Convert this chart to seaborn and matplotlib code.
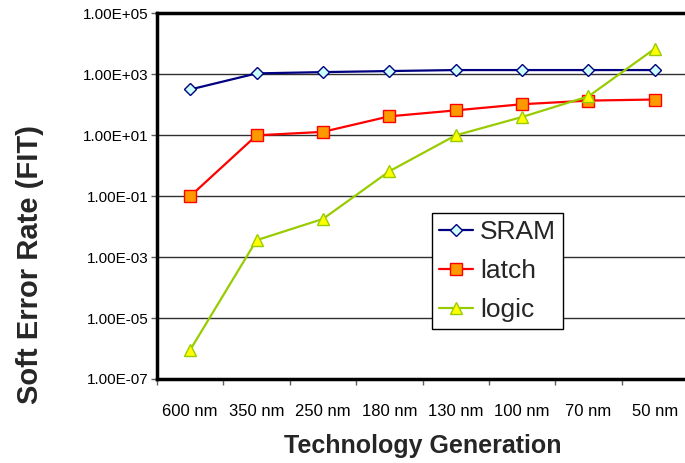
import matplotlib
matplotlib.use("Agg")
import matplotlib.pyplot as plt
import seaborn as sns
import numpy as np
import pandas as pd
from matplotlib.ticker import FixedLocator, FuncFormatter

generations = ["600 nm", "350 nm", "250 nm", "180 nm", "130 nm", "100 nm", "70 nm", "50 nm"]
sram = [320, 1080, 1190, 1290, 1390, 1390, 1390, 1390]
latch = [0.1, 10, 13, 42, 66, 105, 138, 150]
logic = [9e-7, 0.0036, 0.018, 0.66, 10, 40, 190, 7000]
y_ticks = [1e-7, 1e-5, 1e-3, 1e-1, 1e1, 1e3, 1e5]

sns.set_theme(style="white")
plt.rcParams['font.family'] = ['Liberation Sans', 'DejaVu Sans']

fig = plt.figure(figsize=(6.85, 4.63), dpi=100)
ax = fig.add_axes([157/685, 84/463, 531/685, 365.5/463])

styles = [
    ("SRAM", sram, "#000080", "D", "#CCFFFF", "#000080", 6.5),
    ("latch", latch, "#FF0000", "s", "#FF9900", "#FF0000", 8),
    ("logic", logic, "#99CC00", "^", "#FFFF00", "#99CC00", 9),
]
for name, vals, lc, mk, fc, ec, ms in styles:
    df = pd.DataFrame({"gen": generations, "val": vals})
    sns.lineplot(data=df, x="gen", y="val", ax=ax, color=lc, marker=mk,
                 markerfacecolor=fc, markeredgecolor=ec, markersize=ms,
                 markeredgewidth=1.0, linewidth=1.6, label=name, zorder=3)

ax.set_yscale("log")
ax.set_ylim(1e-7, 1e5)
ax.yaxis.set_major_locator(FixedLocator(y_ticks))
ax.yaxis.set_minor_locator(FixedLocator([]))
ax.yaxis.set_major_formatter(FuncFormatter(lambda v, p: f"{v:.2E}"))
ax.grid(axis="y", color="#303030", linewidth=1.0)
ax.set_axisbelow(True)

ax.set_xlim(-0.5, len(generations) - 0.5)
ax.set_xticks(range(len(generations)))
ax.set_xticklabels(generations)
ax.set_xticks(np.arange(-0.5, len(generations), 1.0), minor=True)
ax.tick_params(axis="x", which="major", length=0, pad=18, labelsize=12, colors="black")
ax.tick_params(axis="x", which="minor", length=4, width=1, color="#606060", bottom=True)
ax.tick_params(axis="y", which="major", length=4, width=1, color="#606060", left=True,
               labelsize=11, labelcolor="black", pad=2)

for side in ["left", "top", "bottom", "right"]:
    ax.spines[side].set_color("black")
    ax.spines[side].set_linewidth(2.5)

ax.set_xlabel("Technology Generation", fontsize=18, fontweight="bold", labelpad=11)
ax.set_ylabel("Soft Error Rate (FIT)", fontsize=21, fontweight="bold")
ax.yaxis.set_label_coords(-0.213, 0.312)

leg = ax.legend(loc="upper left", bbox_to_anchor=((432-157)/531, (379-213)/365.5),
                borderaxespad=0, fontsize=19, frameon=True, fancybox=False,
                edgecolor="black", framealpha=1, handlelength=1.27, handletextpad=0.27,
                labelspacing=0.56, borderpad=0.28)
leg.get_frame().set_linewidth(1.0)

fig.savefig("out.png", dpi=100)
